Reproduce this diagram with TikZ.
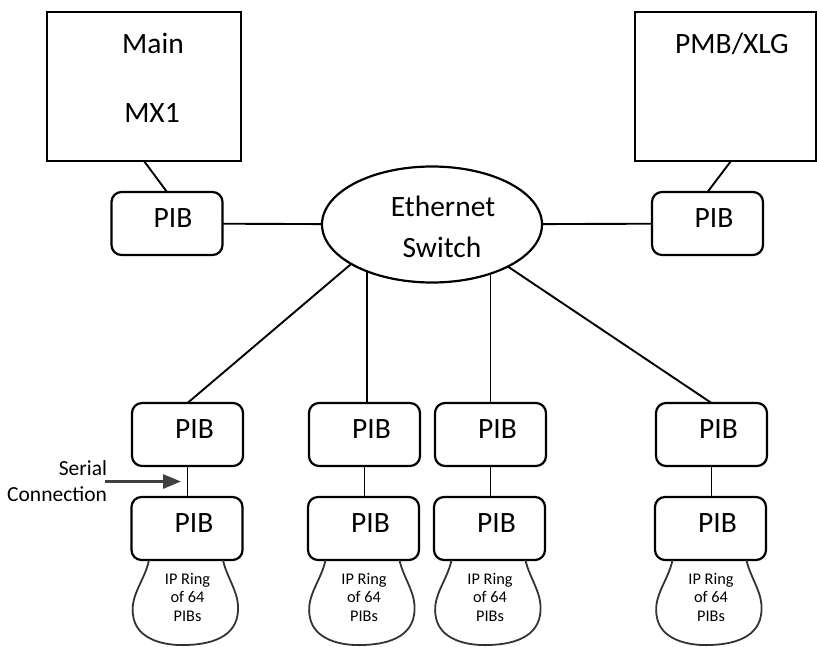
\documentclass[tikz,border=0pt]{standalone}
\usepackage{fontspec}
\setmainfont{Carlito}
\usetikzlibrary{shapes.geometric,arrows.meta,calc}
\definecolor{arrowgray}{HTML}{404040}
\begin{document}
\begin{tikzpicture}[x=1pt,y=-1pt,
  every node/.style={inner sep=0pt, outer sep=0pt},
  big/.style={font=\fontsize{29.5}{34}\selectfont, anchor=base},
  mid/.style={font=\fontsize{21.5}{26}\selectfont, anchor=base east},
  small/.style={font=\fontsize{16.3}{19}\selectfont, anchor=base},
  hostbox/.style={draw, line width=2.2pt, minimum width=#1, minimum height=149pt},
  pib/.style={draw, line width=2.2pt, rounded corners=10pt, minimum width=111pt, minimum height=63pt},
  switchnode/.style={draw, ellipse, line width=2.2pt, minimum width=220pt, minimum height=116pt},
  link/.style={line width=1.9pt},
  ringline/.style={line width=1.8pt, draw=black!80},
  serialarrow/.style={line width=2.8pt, draw=arrowgray, -{Triangle[length=18pt,width=14pt]}}
]
\useasboundingbox (0,0) rectangle (817,646);

% host boxes
\node[hostbox=194pt] (main) at (144,86.5) {};
\node[big] (mainA) at (153,53) {Main};
\node[big] (mainB) at (152,122) {MX1};
\node[hostbox=181pt] (pmb) at (725.5,86.5) {};
\node[big] (pmbl) at (732,53) {PMB/XLG};

% top PIBs
\node[pib] (pibL) at (167,223.5) {};
\node[big] (pibLl) at ($(pibL)+(6,3.5)$) {PIB};
\node[pib] (pibR) at (707.5,223.5) {};
\node[big] (pibRl) at ($(pibR)+(6.5,3.5)$) {PIB};

% switch
\node[switchnode] (sw) at (432,224.5) {};
\node[big] (swa) at (443,216) {Ethernet};
\node[big] (swb) at (442,257) {Switch};

% bottom PIB chains
\foreach \i/\x/\xb in {1/187.5/187, 2/364.5/363.5, 3/490.5/489.5, 4/711.5/710.5} {
  \node[pib] (t\i) at (\x,434.5) {};
  \node[big] (tl\i) at ($(t\i)+(7,3.5)$) {PIB};
  \node[pib] (b\i) at (\xb,528.5) {};
  \node[big] (bl\i) at ($(b\i)+(7,3.5)$) {PIB};
  \draw[link] (t\i.south) -- (t\i.south |- b\i.north);
  \draw[ringline, shift={(b\i.south)}] (-38,0)
     .. controls (-42,20) and (-57,35) .. (-54,55)
     .. controls (-51,80) and (-22,86) .. (0,85)
     .. controls (28,84) and (53,75) .. (51,45)
     .. controls (50,30) and (39,15) .. (36,0);
  \node[small] (ra\i) at ($(b\i.south)+(0.5,24)$) {IP Ring};
  \node[small] (rb\i) at ($(b\i.south)+(0.5,42.5)$) {of 64};
  \node[small] (rc\i) at ($(b\i.south)+(0.5,61)$) {PIBs};
}

% connectors
\draw[link] (main.south) -- (pibL.north);
\draw[link] ($(pmb.south)+(5.5,0)$) -- (pibR.north);
\draw[link] (pibL) -- (sw);
\draw[link] (sw) -- (pibR);
\draw[link] (sw.206) -- (t1.north);
\draw[link] (sw.216) -- (sw.216 |- t2.north);
\draw[link] (sw.320) -- (sw.320 |- t3.north);
\draw[link] (sw.331) -- (t4.north);

% serial connection
\node[mid] (ser1) at (107,475) {Serial};
\node[mid] (ser2) at (107,501) {Connection};
\coordinate (arrS) at (105,481.5);
\coordinate (arrE) at (181,481.5);
\draw[serialarrow] (arrS) -- (arrE);
\end{tikzpicture}
\end{document}
